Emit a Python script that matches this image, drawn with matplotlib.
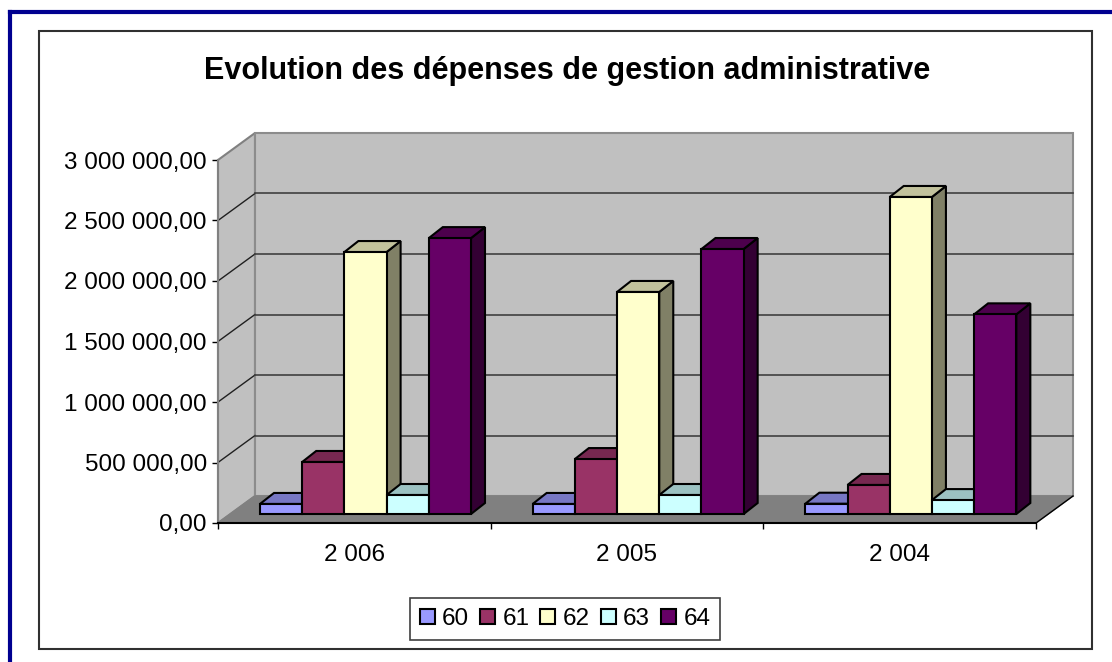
import matplotlib
matplotlib.use('Agg')
import matplotlib.pyplot as plt
from matplotlib.patches import Polygon, Rectangle
from matplotlib.lines import Line2D

plt.rcParams['font.family'] = ['Liberation Sans', 'DejaVu Sans']

years = ['2 006', '2 005', '2 004']
series_names = ['60', '61', '62', '63', '64']
values_60 = [83000, 83000, 85000]
values_61 = [430000, 454000, 240000]
values_62 = [2165000, 1835000, 2620000]
values_63 = [157000, 157000, 115000]
values_64 = [2280000, 2190000, 1650000]
all_values = [values_60, values_61, values_62, values_63, values_64]

y_ticks = [0, 500000, 1000000, 1500000, 2000000, 2500000, 3000000]
y_labels = ['0,00', '500 000,00', '1 000 000,00', '1 500 000,00',
            '2 000 000,00', '2 500 000,00', '3 000 000,00']

front_colors = ['#9999FF', '#993366', '#FFFFCC', '#CCFFFF', '#660066']
top_colors = ['#7777C4', '#772850', '#C2C29C', '#9CC2C2', '#4D004D']
side_colors = ['#666699', '#602040', '#808066', '#668080', '#330033']

W, H = 1112, 662
fig = plt.figure(figsize=(W / 100, H / 100), dpi=100)


def fig_x(px):
    return px / W


def fig_y(px):
    return 1 - px / H


# cadres autour du graphique
fig.add_artist(Rectangle((fig_x(39), fig_y(649)), fig_x(1092) - fig_x(39), fig_y(31) - fig_y(649),
                         transform=fig.transFigure, facecolor='white', edgecolor='#303030',
                         linewidth=1.5, zorder=-1))
fig.add_artist(Line2D([fig_x(9.5), fig_x(9.5)], [fig_y(662), fig_y(11.5)], transform=fig.transFigure,
                      color='#000090', linewidth=3, zorder=-1, solid_capstyle='projecting'))
fig.add_artist(Line2D([fig_x(9.5), fig_x(1112)], [fig_y(11.5), fig_y(11.5)], transform=fig.transFigure,
                      color='#000090', linewidth=3, zorder=-1))

ax = fig.add_axes([fig_x(218), fig_y(523), fig_x(1036) - fig_x(218), fig_y(160) - fig_y(523)])
ax.patch.set_visible(False)
ax.set_xlim(0, 3)
ax.set_ylim(0, 3000000)

# conversion pixels -> unites des axes
x_per_px = 3 / 818
y_per_px = 3000000 / 363

wall_dx = 37 * x_per_px
wall_dy = 27 * y_per_px
bar_dx = 14 * x_per_px
bar_dy = 11 * y_per_px
base = 9 * y_per_px
gap = 42 * x_per_px
bar_w = 42.2 * x_per_px

# murs et sol
ax.add_patch(Polygon([(0, 0), (wall_dx, wall_dy), (wall_dx, 3000000 + wall_dy), (0, 3000000)],
                     facecolor='#C0C0C0', edgecolor='#808080', linewidth=1.5, clip_on=False, zorder=1))
ax.add_patch(Polygon([(wall_dx, wall_dy), (3 + wall_dx, wall_dy), (3 + wall_dx, 3000000 + wall_dy),
                      (wall_dx, 3000000 + wall_dy)],
                     facecolor='#C0C0C0', edgecolor='#8C8C8C', linewidth=1.5, clip_on=False, zorder=1))
ax.add_patch(Polygon([(0, 0), (3, 0), (3 + wall_dx, wall_dy), (wall_dx, wall_dy)],
                     facecolor='#808080', edgecolor='#808080', linewidth=1, clip_on=False, zorder=1))

for t in y_ticks[1:-1]:
    ax.plot([0, wall_dx], [t, t + wall_dy], color='#202020', linewidth=1, clip_on=False, zorder=2)
    ax.plot([wall_dx, 3 + wall_dx], [t + wall_dy, t + wall_dy], color='#404040', linewidth=1.2,
            clip_on=False, zorder=2)
ax.plot([3, 3 + wall_dx], [0, wall_dy], color='black', linewidth=1, clip_on=False, zorder=2)

# barres, de gauche a droite
z = 3
for i in range(len(years)):
    for j in range(len(series_names)):
        v = all_values[j][i]
        x0 = i + gap + j * bar_w
        x1 = x0 + bar_w
        y1 = base + v
        ax.add_patch(Polygon([(x1, base), (x1 + bar_dx, base + bar_dy), (x1 + bar_dx, y1 + bar_dy), (x1, y1)],
                             facecolor=side_colors[j], edgecolor='black', linewidth=1.5,
                             clip_on=False, zorder=z))
        ax.add_patch(Polygon([(x0, y1), (x1, y1), (x1 + bar_dx, y1 + bar_dy), (x0 + bar_dx, y1 + bar_dy)],
                             facecolor=top_colors[j], edgecolor='black', linewidth=1.5,
                             clip_on=False, zorder=z))
        ax.bar(x0, v, width=bar_w, bottom=base, align='edge', color=front_colors[j], edgecolor='black',
               linewidth=1.5, clip_on=False, zorder=z + 0.5)
        z += 1

for s in ['top', 'right']:
    ax.spines[s].set_visible(False)
ax.spines['left'].set_color('#808080')
ax.spines['left'].set_linewidth(1.5)
ax.spines['bottom'].set_color('black')
ax.spines['bottom'].set_linewidth(1.5)
ax.spines['left'].set_zorder(2)
ax.spines['bottom'].set_zorder(2)

ax.set_yticks(y_ticks)
ax.set_yticklabels(y_labels, fontsize=17.5, color='black')
ax.tick_params(axis='y', length=4, width=1, pad=4)
ax.set_xticks([0, 1, 2, 3])
ax.set_xticklabels([])
ax.tick_params(axis='x', which='major', length=4.5, width=1)
ax.set_xticks([0.5, 1.5, 2.5], minor=True)
ax.set_xticklabels(years, minor=True, fontsize=17.5)
ax.tick_params(axis='x', which='minor', length=0, pad=15)

fig.suptitle('Evolution des dépenses de gestion administrative', x=fig_x(567.5), y=fig_y(71),
             ha='center', va='center', fontsize=22, fontweight='bold')

handles = [Rectangle((0, 0), 1, 1, facecolor=c, edgecolor='black', linewidth=1.5) for c in front_colors]
leg = fig.legend(handles, series_names, ncol=5, loc='center', bbox_to_anchor=(fig_x(565), fig_y(619)),
                 fontsize=17.5, frameon=True, fancybox=False, framealpha=1, edgecolor='#404040',
                 handlelength=0.62, handleheight=0.62, handletextpad=0.3, columnspacing=0.45,
                 borderpad=0.4, borderaxespad=0)
leg.get_frame().set_linewidth(1.2)

fig.savefig('out.png', dpi=100)
